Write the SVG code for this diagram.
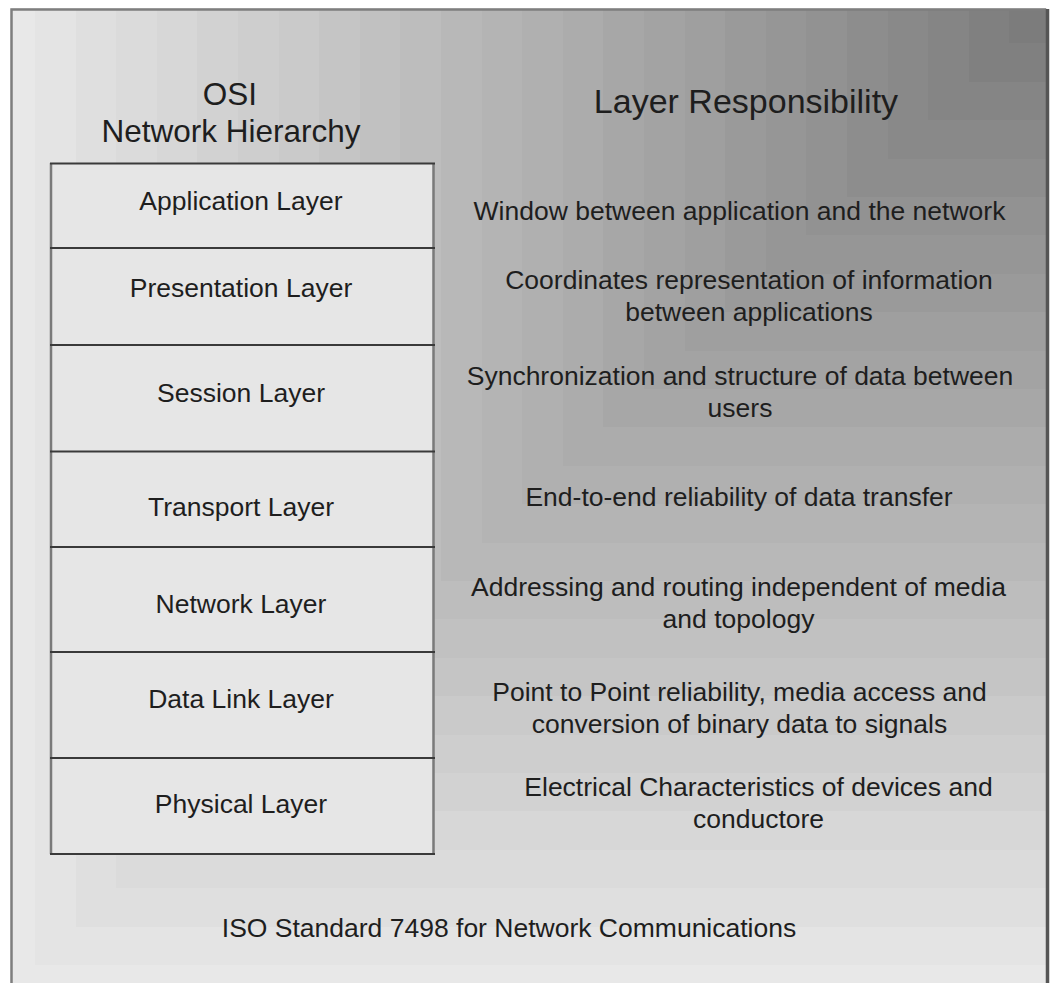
<svg xmlns="http://www.w3.org/2000/svg" width="1053" height="983" viewBox="0 0 1053 983">
  <style>
    .t { font-family: "Liberation Sans", Arial, sans-serif; fill: #1e1e1e; text-anchor: middle; }
    .hd { font-size: 31.5px; }
    .bd { font-size: 26.5px; }
    .layer { fill: #e6e6e6; }
    .side { stroke: #7a7a7a; stroke-width: 2.5; fill: none; }
    .div { stroke: #3a3a3a; stroke-width: 2; fill: none; }
  </style>

  <rect x="0" y="0" width="1053" height="983" fill="#ffffff"/>

  <!-- stepped backdrop: nested bands, lightest at left/bottom, darkest at top-right -->
  <g id="backdrop" shape-rendering="crispEdges">
    <rect x="11" y="8" width="1036" height="990" fill="#e8e8e8"/>
    <rect x="35" y="9" width="1012" height="956" fill="#e4e4e4"/>
    <rect x="76" y="9" width="971" height="918" fill="#dfdfdf"/>
    <rect x="116" y="9" width="931" height="879" fill="#dbdbdb"/>
    <rect x="157" y="9" width="890" height="841" fill="#d7d7d7"/>
    <rect x="197" y="9" width="850" height="802" fill="#d2d2d2"/>
    <rect x="238" y="9" width="809" height="764" fill="#cecece"/>
    <rect x="279" y="9" width="768" height="726" fill="#cacaca"/>
    <rect x="319" y="9" width="728" height="687" fill="#c5c5c5"/>
    <rect x="360" y="9" width="687" height="649" fill="#c1c1c1"/>
    <rect x="400" y="9" width="647" height="610" fill="#bdbdbd"/>
    <rect x="441" y="9" width="606" height="572" fill="#b8b8b8"/>
    <rect x="482" y="9" width="565" height="534" fill="#b4b4b4"/>
    <rect x="522" y="9" width="525" height="495" fill="#b0b0b0"/>
    <rect x="563" y="9" width="484" height="457" fill="#acacac"/>
    <rect x="603" y="9" width="444" height="418" fill="#a7a7a7"/>
    <rect x="644" y="9" width="403" height="380" fill="#a3a3a3"/>
    <rect x="685" y="9" width="362" height="342" fill="#9f9f9f"/>
    <rect x="725" y="9" width="322" height="303" fill="#9a9a9a"/>
    <rect x="766" y="9" width="281" height="265" fill="#969696"/>
    <rect x="806" y="9" width="241" height="226" fill="#929292"/>
    <rect x="847" y="9" width="200" height="188" fill="#8d8d8d"/>
    <rect x="888" y="9" width="159" height="150" fill="#898989"/>
    <rect x="928" y="9" width="119" height="111" fill="#858585"/>
    <rect x="969" y="9" width="78" height="73" fill="#808080"/>
    <rect x="1009" y="9" width="38" height="34" fill="#7c7c7c"/>
  </g>

  <!-- outer frame -->
  <g id="frame" fill="none">
    <path d="M11.5 995 V9.5 H1046" stroke="#7e7e7e" stroke-width="2.5"/>
    <path d="M1047.5 9 V995" stroke="#555555" stroke-width="3.5"/>
  </g>

  <!-- column headings -->
  <g id="heading-osi">
    <text class="t hd" x="230" y="105">OSI</text>
    <text class="t hd" x="231" y="142">Network Hierarchy</text>
  </g>
  <g id="heading-responsibility">
    <text class="t" style="font-size:34px" x="746" y="113">Layer Responsibility</text>
  </g>

  <!-- layer stack -->
  <g id="layer-application">
    <rect class="layer" x="50" y="163" width="384" height="85"/>
    <text class="t bd" x="241" y="210">Application Layer</text>
  </g>
  <g id="layer-presentation">
    <rect class="layer" x="50" y="248" width="384" height="97"/>
    <text class="t bd" x="241" y="297">Presentation Layer</text>
  </g>
  <g id="layer-session">
    <rect class="layer" x="50" y="345" width="384" height="106"/>
    <text class="t bd" x="241" y="402">Session Layer</text>
  </g>
  <g id="layer-transport">
    <rect class="layer" x="50" y="451" width="384" height="96"/>
    <text class="t bd" x="241" y="516">Transport Layer</text>
  </g>
  <g id="layer-network">
    <rect class="layer" x="50" y="547" width="384" height="105"/>
    <text class="t bd" x="241" y="613">Network Layer</text>
  </g>
  <g id="layer-datalink">
    <rect class="layer" x="50" y="652" width="384" height="106"/>
    <text class="t bd" x="241" y="708">Data Link Layer</text>
  </g>
  <g id="layer-physical">
    <rect class="layer" x="50" y="758" width="384" height="96"/>
    <text class="t bd" x="241" y="813">Physical Layer</text>
  </g>

  <!-- stack outline: grey sides, dark dividers -->
  <g id="stack-outline">
    <path class="side" d="M51 163 V854 M433.5 163 V854"/>
    <path class="div" d="M50 163.5 H435 M50 248 H435 M50 345 H435 M50 451.5 H435 M50 547 H435 M50 652 H435 M50 758 H435 M50 854 H435"/>
  </g>

  <!-- responsibility descriptions -->
  <g id="desc-application">
    <text class="t bd" x="739.5" y="220">Window between application and the network</text>
  </g>
  <g id="desc-presentation">
    <text class="t bd" x="749" y="289">Coordinates representation of information</text>
    <text class="t bd" x="749" y="321">between applications</text>
  </g>
  <g id="desc-session">
    <text class="t bd" x="740" y="385">Synchronization and structure of data between</text>
    <text class="t bd" x="740" y="417">users</text>
  </g>
  <g id="desc-transport">
    <text class="t bd" x="739" y="506">End-to-end reliability of data transfer</text>
  </g>
  <g id="desc-network">
    <text class="t bd" x="738.5" y="596">Addressing and routing independent of media</text>
    <text class="t bd" x="738.5" y="628">and topology</text>
  </g>
  <g id="desc-datalink">
    <text class="t bd" x="739.5" y="701">Point to Point reliability, media access and</text>
    <text class="t bd" x="739.5" y="733">conversion of binary data to signals</text>
  </g>
  <g id="desc-physical">
    <text class="t bd" x="758.5" y="796">Electrical Characteristics of devices and</text>
    <text class="t bd" x="758.5" y="828">conductore</text>
  </g>

  <!-- footer caption -->
  <g id="caption">
    <text class="t bd" x="509" y="937">ISO Standard 7498 for Network Communications</text>
  </g>

  <g id="connectors"/>
</svg>
